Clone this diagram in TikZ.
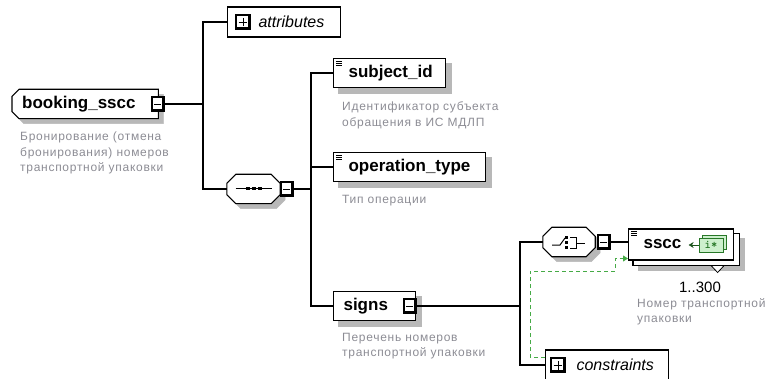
\documentclass[tikz,border=0pt]{standalone}
\usepackage{fontspec}
\setmainfont{Liberation Sans}
\newfontfamily\descfont[LetterSpace=6]{Liberation Sans}
\usetikzlibrary{shadows,arrows.meta,backgrounds}
\definecolor{descgray}{RGB}{140,140,148}
\definecolor{keygreen}{RGB}{70,170,70}
\colorlet{boxdrop}{black!28}
\definecolor{iconfill}{RGB}{205,240,205}
\definecolor{icondraw}{RGB}{40,120,40}

% three short lines at the top left of a simple element
\newcommand{\simplemark}[1]{%
  \foreach \k in {0,2,4} \draw[line width=0.7pt] ([shift={(3,3+\k)}]#1.north west) -- ++(6,0);}

\begin{document}
\begin{tikzpicture}[x=1pt,y=-1pt,
  conn/.style={line width=1.1pt},
  label/.style={anchor=west,minimum height=29pt,inner ysep=0pt,align=left,font=\fontsize{17}{17}\selectfont\bfseries},
  elem/.style={label,draw,fill=white,line width=1.1pt},
  optbox/.style={draw,fill=white,line width=1.1pt,anchor=west,minimum height=30pt,inner xsep=7pt,inner ysep=0pt,align=left,font=\fontsize{16}{16}\selectfont\itshape},
  compbase/.style={minimum width=53pt,minimum height=29pt,inner sep=0pt},
  boxpath/.style 2 args={insert path={([xshift=#2,yshift=-#2]#1.north west) rectangle ([xshift=#2,yshift=-#2]#1.south east)}},
  octagon/.style n args={3}{insert path={([xshift=#2+#3,yshift=-#3]#1.north west) -- ([xshift=-#2+#3,yshift=-#3]#1.north east)
    -- ([xshift=#3,yshift=-#2-#3]#1.north east) -- ([xshift=#3,yshift=#2-#3]#1.south east) -- ([xshift=-#2+#3,yshift=-#3]#1.south east)
    -- ([xshift=#2+#3,yshift=-#3]#1.south west) -- ([xshift=#3,yshift=#2-#3]#1.south west) -- ([xshift=#3,yshift=-#2-#3]#1.north west) -- cycle}},
  leftcut/.style n args={3}{insert path={([xshift=#2+#3,yshift=-#3]#1.north west) -- ([xshift=#3,yshift=-#3]#1.north east)
    -- ([xshift=#3,yshift=-#3]#1.south east) -- ([xshift=#2+#3,yshift=-#3]#1.south west) -- ([xshift=#3,yshift=#2-#3]#1.south west)
    -- ([xshift=#3,yshift=-#2-#3]#1.north west) -- cycle}},
  dropped/.style={fill=boxdrop,draw=boxdrop,line width=0.5pt},
  outline/.style={draw,fill=white,line width=1.1pt},
  toggle/.style={draw,fill=white,line width=1.2pt,minimum width=12pt,minimum height=14pt,inner sep=0pt},
  minus/.style={toggle,path picture={
    \draw[line width=4pt] (path picture bounding box.north east) -- (path picture bounding box.south east) -- (path picture bounding box.south west);
    \draw[line width=0.8pt] ([xshift=-4pt]path picture bounding box.center) -- ([xshift=3pt]path picture bounding box.center);}},
  plus/.style={toggle,minimum width=14pt,path picture={
    \draw[line width=4pt] (path picture bounding box.north east) -- (path picture bounding box.south east) -- (path picture bounding box.south west);
    \draw[line width=0.9pt] ([xshift=-4.5pt]path picture bounding box.center) -- ([xshift=4pt]path picture bounding box.center);
    \draw[line width=0.9pt] ([yshift=-4.5pt]path picture bounding box.center) -- ([yshift=4pt]path picture bounding box.center);}},
  desc/.style={anchor=north west,inner sep=0pt,align=left,text=descgray,font=\descfont\fontsize{12}{15.5}\selectfont},
  keyicon/.style={draw=icondraw,fill=iconfill,line width=0.8pt,minimum width=24pt,minimum height=14pt,inner sep=0pt,
    font=\ttfamily\bfseries\fontsize{12}{12}\selectfont,text=icondraw,
    copy shadow={shadow xshift=3pt,shadow yshift=3pt,draw=icondraw,fill=iconfill}},
  keyref/.style={keygreen,line width=1pt,dash pattern=on 4pt off 3pt,-{Triangle[length=5pt,width=6pt]}}]
\useasboundingbox (0,0) rectangle (778,379);

% root element
\node[label,inner xsep=10pt,text width=126pt] (booking) at (12,104) {booking\_sscc};
\node[minus] (bookingm) at (158,104) {};
\node[desc] (bookingd) at (20,132) {Бронирование (отмена\\бронирования) номеров\\транспортной упаковки};
\coordinate (bus1) at (203,104);

\node[optbox,text width=99pt] (attr) at (227,22) {\hspace*{24pt}attributes};
\node[plus] (attrp) at (243,22) {};

% sequence
\node[compbase] (seq) at (253.5,189) {};
\draw[line width=1pt] ([xshift=-18pt]seq.center) -- ([xshift=18pt]seq.center);
\foreach \dx in {-6,0,6} \fill ([shift={(\dx-2,-1.5)}]seq.center) rectangle ++(4,3);
\node[minus] (seqm) at (287,189) {};
\coordinate (bus2) at (311,189);

\node[elem,inner xsep=15pt,text width=82pt] (subj) at (333,73) {subject\_id};
\node[desc] (subjd) at (342,102) {Идентификатор субъекта\\обращения в ИС МДЛП};
\node[elem,inner xsep=15pt,text width=122pt] (optype) at (333,167) {operation\_type};
\node[desc] (optyped) at (342,195) {Тип операции};
\node[elem,inner xsep=10pt,text width=62pt] (signs) at (333,306) {signs};
\node[minus] (signsm) at (410,306) {};
\node[desc] (signsd) at (342,333) {Перечень номеров\\транспортной упаковки};
\coordinate (bus3) at (520,306);
\simplemark{subj}
\simplemark{optype}

% choice
\node[compbase,minimum width=52pt] (choice) at (569,242) {};
\draw[line width=1pt] ([shift={(-17,3)}]choice.center) -- ++(8,0) -- ++(5,-7);
\foreach \dy in {-5,0,5} \fill ([shift={(-4,\dy-1.5)}]choice.center) rectangle ++(3,3);
\draw[line width=1pt] ([shift={(1,-5)}]choice.center) -- ++(6,0) -- ++(0,11) -- ++(-6,0);
\draw[line width=1pt] ([shift={(7,1)}]choice.center) -- ++(9,0);
\node[minus] (choicem) at (604,242) {};

\node[elem,inner xsep=15pt,text width=75pt,minimum height=31pt] (sscc) at (628,244.5) {sscc};
\simplemark{sscc}
\node[keyicon] (ssccicon) at (711,245) {i*};
\draw[line width=1pt,icondraw!70!black,-{Stealth[length=5pt,width=6pt]}] (ssccicon.west) -- ++(-10,0);
\draw[fill=white,line width=0.8pt] ([shift={(-23,5)}]sscc.south east) -- ++(13,0) -- ++(-6.5,7) -- cycle;
\node[font=\fontsize{15}{15}\selectfont,inner sep=0pt] (ssccocc) at (700,287) {1..300};
\node[desc] (ssccd) at (637,298) {Номер транспортной\\упаковки};

\node[optbox,text width=109pt] (constr) at (545,365) {\hspace*{24pt}constraints};
\node[plus] (constrp) at (558,365) {};

% shadows and shapes behind
\begin{scope}[on background layer]
  \path[dropped,leftcut={booking}{7pt}{5pt}];
  \draw[outline,leftcut={booking}{7pt}{0pt}];
  \path[dropped,octagon={seq}{9pt}{5pt}];
  \draw[outline,octagon={seq}{9pt}{0pt}];
  \path[dropped,octagon={choice}{9pt}{5pt}];
  \draw[outline,octagon={choice}{9pt}{0pt}];
  \foreach \n in {subj,optype,signs} \path[dropped,boxpath={\n}{5pt}];
  \path[dropped,boxpath={sscc}{10pt}];
  \draw[outline,boxpath={sscc}{5pt}];
\end{scope}

% connectors
\draw[conn] (bookingm.east) -- (bus1) |- (attr.west);
\draw[conn] (bus1) |- (seq.west);
\draw[conn] (seqm.east) -- (bus2) |- (subj.west);
\draw[conn] (bus2) |- (optype.west);
\draw[conn] (bus2) |- (signs.west);
\draw[conn] (signsm.east) -- (bus3) |- (choice.west);
\draw[conn] (bus3) |- (constr.west);
\draw[conn] (choicem.east) -- (choicem.east -| sscc.west);
\coordinate (k1) at (530,271);
\draw[keyref] ([yshift=8pt]constr.west) -| (k1) -| ([shift={(-13pt,-14pt)}]sscc.west) -- ([yshift=-14pt]sscc.west);
\end{tikzpicture}
\end{document}
